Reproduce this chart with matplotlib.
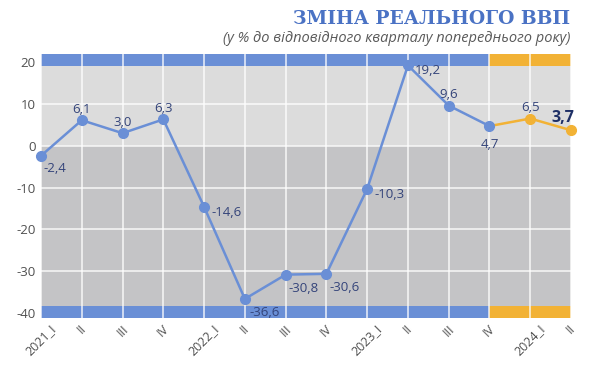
"""
Зміна реального ВВП (у % до відповідного кварталу попереднього року).
"""

import matplotlib.pyplot as plt
import numpy as np

# --- Data ---
QUARTERS = ["2021_I", "II", "III", "IV", "2022_I", "II", "III", "IV",
            "2023_I", "II", "III", "IV", "2024_I", "II"]
GDP = [-2.4, 6.1, 3.0, 6.3, -14.6, -36.6, -30.8, -30.6,
       -10.3, 19.2, 9.6, 4.7, 6.5, 3.7]
N_ACTUAL = 12  # first 12 quarters in blue, rest in orange
Y_TICKS = [20, 10, 0, -10, -20, -30, -40]

# label offsets (points) and alignment for each value
LABEL_POS = [
    (2, -9, "left"), (0, 8, "center"), (0, 8, "center"), (0, 8, "center"),
    (5, -4, "left"), (3, -10, "left"), (2, -10, "left"), (2, -10, "left"),
    (5, -4, "left"), (5, -4, "left"), (0, 8, "center"), (0, -13, "center"),
    (0, 8, "center"), (-6, 9, "center"),
]

BLUE = "#6a8fd6"
ORANGE = "#f2b235"
LABEL_COLOR = "#34447a"
TICK_COLOR = "#505050"

plt.rcParams["font.family"] = ["Open Sans", "DejaVu Sans"]

fig = plt.figure(figsize=(5.97, 3.73), dpi=100)
ax = fig.add_axes([0.0687, 0.147, 0.8878, 0.708])

x = np.arange(len(QUARTERS))
y_lo, y_hi = -41.2, 21.9
ax.set_xlim(0, len(QUARTERS) - 1)
ax.set_ylim(y_lo, y_hi)

# background zones
ax.axhspan(0, y_hi, color="#dcdcdc", zorder=0)
ax.axhspan(y_lo, 0, color="#c4c4c6", zorder=0)

# top / bottom bands
band_h = 2.8
for y0 in (y_hi - band_h, y_lo):
    ax.add_patch(plt.Rectangle((0, y0), N_ACTUAL - 1, band_h, color=BLUE,
                               zorder=1, lw=0))
    ax.add_patch(plt.Rectangle((N_ACTUAL - 1, y0), len(QUARTERS) - N_ACTUAL,
                               band_h, color=ORANGE, zorder=1, lw=0))

# grid
for xi in x:
    ax.axvline(xi, color="white", lw=1.2, alpha=0.8, zorder=2)
for yt in Y_TICKS[1:-1]:
    ax.axhline(yt, color="white", lw=1.2, alpha=0.8, zorder=2)

# lines
ax.plot(x[:N_ACTUAL], GDP[:N_ACTUAL], color=BLUE, lw=1.8, marker="o",
        ms=7, zorder=4, clip_on=False)
ax.plot(x[N_ACTUAL - 1:], GDP[N_ACTUAL - 1:], color=ORANGE, lw=1.8,
        zorder=3, clip_on=False)
ax.plot(x[N_ACTUAL:], GDP[N_ACTUAL:], color=ORANGE, lw=0, marker="o",
        ms=7, zorder=4, clip_on=False)

# value labels
for i, (xi, v) in enumerate(zip(x, GDP)):
    dx, dy, ha = LABEL_POS[i]
    txt = f"{v:.1f}".replace(".", ",")
    last = i == len(GDP) - 1
    ax.annotate(txt, (xi, v), xytext=(dx, dy), textcoords="offset points",
                ha=ha, va="center", fontsize=11.5 if last else 9.5,
                fontweight="bold" if last else "normal",
                color="#1e2f66" if last else LABEL_COLOR, zorder=5,
                annotation_clip=False)

# axes styling
ax.set_yticks(Y_TICKS)
ax.set_yticklabels([str(t) for t in Y_TICKS], color=TICK_COLOR, fontsize=9.5)
ax.set_xticks(x)
ax.set_xticklabels(QUARTERS, rotation=45, ha="center", va="top",
                   color=TICK_COLOR, fontsize=9)
ax.tick_params(length=0, pad=4)
ax.tick_params(axis="x", pad=3)
for s in ax.spines.values():
    s.set_visible(False)

# titles
fig.text(0.955, 0.95, "ЗМІНА РЕАЛЬНОГО ВВП", ha="right", va="center",
         fontsize=13.5, fontweight="bold", color="#4a72c4",
         family=["DejaVu Serif"])
fig.text(0.955, 0.898, "(у % до відповідного кварталу попереднього року)",
         ha="right", va="center", fontsize=10.5, style="italic",
         color="#5a5a5a")

fig.savefig("out.png", dpi=100)
